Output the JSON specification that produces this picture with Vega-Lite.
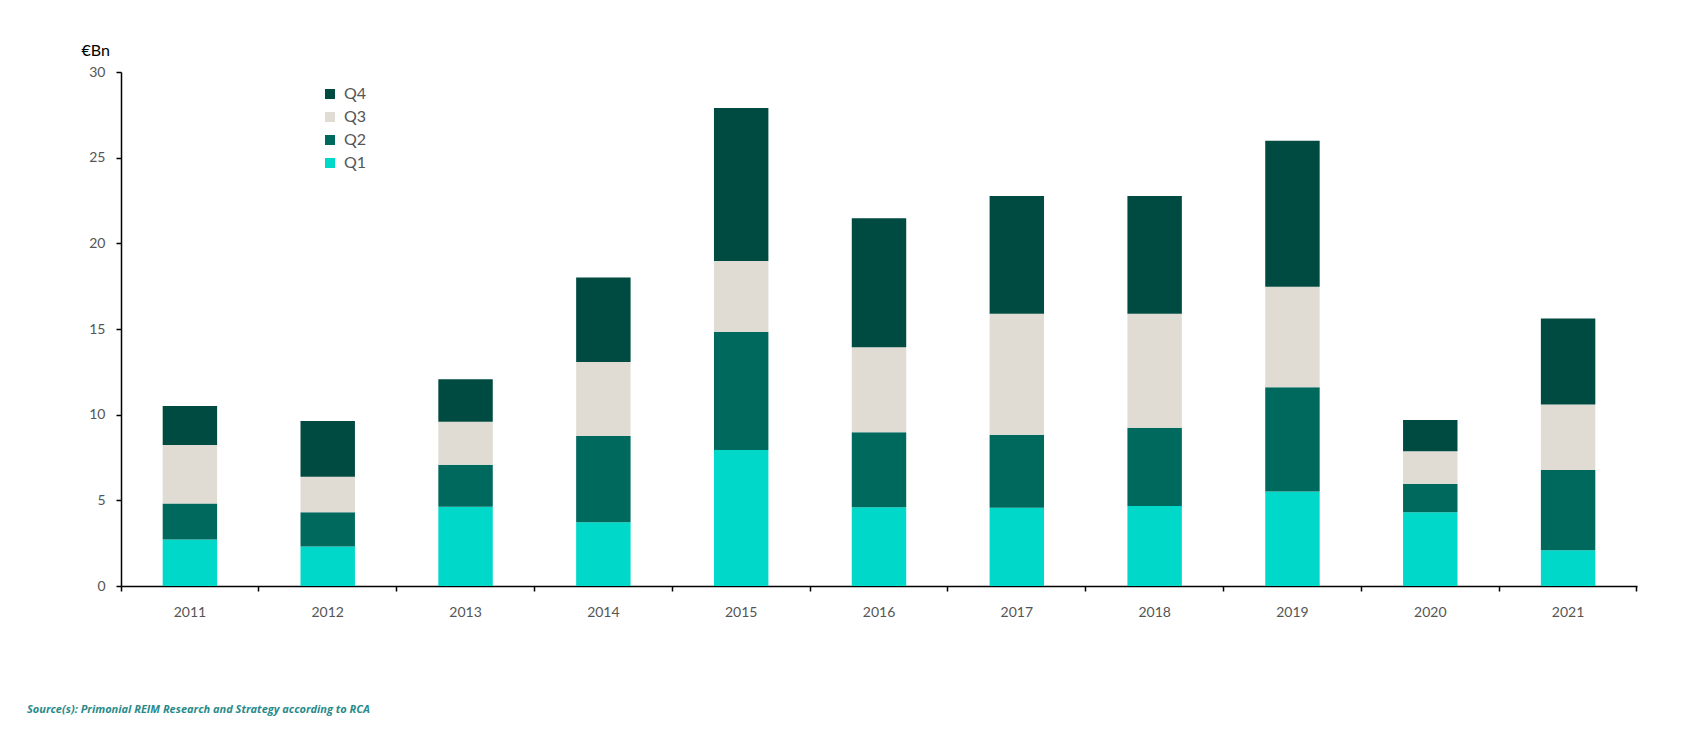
{
  "$schema": "https://vega.github.io/schema/vega-lite/v6.json",
  "autosize": {"type": "none"},
  "padding": {"left": 121, "top": 72, "right": 53, "bottom": 150},
  "width": 1516,
  "height": 514,
  "background": "white",
  "title": {
    "text": "Source(s): Primonial REIM Research and Strategy according to RCA",
    "orient": "bottom",
    "anchor": "start",
    "frame": "group",
    "dx": -94,
    "offset": 85,
    "font": "Open Sans",
    "fontSize": 11,
    "fontStyle": "italic",
    "fontWeight": "bold",
    "color": "#2a8a8a"
  },
  "data": {
    "values": [
      {"year": "2011", "quarter": "Q1", "value": 2.72},
      {"year": "2011", "quarter": "Q2", "value": 2.09},
      {"year": "2011", "quarter": "Q3", "value": 3.42},
      {"year": "2011", "quarter": "Q4", "value": 2.28},
      {"year": "2012", "quarter": "Q1", "value": 2.30},
      {"year": "2012", "quarter": "Q2", "value": 2.00},
      {"year": "2012", "quarter": "Q3", "value": 2.08},
      {"year": "2012", "quarter": "Q4", "value": 3.25},
      {"year": "2013", "quarter": "Q1", "value": 4.63},
      {"year": "2013", "quarter": "Q2", "value": 2.45},
      {"year": "2013", "quarter": "Q3", "value": 2.51},
      {"year": "2013", "quarter": "Q4", "value": 2.47},
      {"year": "2014", "quarter": "Q1", "value": 3.72},
      {"year": "2014", "quarter": "Q2", "value": 5.03},
      {"year": "2014", "quarter": "Q3", "value": 4.32},
      {"year": "2014", "quarter": "Q4", "value": 4.93},
      {"year": "2015", "quarter": "Q1", "value": 7.94},
      {"year": "2015", "quarter": "Q2", "value": 6.88},
      {"year": "2015", "quarter": "Q3", "value": 4.15},
      {"year": "2015", "quarter": "Q4", "value": 8.93},
      {"year": "2016", "quarter": "Q1", "value": 4.59},
      {"year": "2016", "quarter": "Q2", "value": 4.38},
      {"year": "2016", "quarter": "Q3", "value": 4.96},
      {"year": "2016", "quarter": "Q4", "value": 7.53},
      {"year": "2017", "quarter": "Q1", "value": 4.57},
      {"year": "2017", "quarter": "Q2", "value": 4.26},
      {"year": "2017", "quarter": "Q3", "value": 7.06},
      {"year": "2017", "quarter": "Q4", "value": 6.87},
      {"year": "2018", "quarter": "Q1", "value": 4.67},
      {"year": "2018", "quarter": "Q2", "value": 4.57},
      {"year": "2018", "quarter": "Q3", "value": 6.65},
      {"year": "2018", "quarter": "Q4", "value": 6.87},
      {"year": "2019", "quarter": "Q1", "value": 5.51},
      {"year": "2019", "quarter": "Q2", "value": 6.09},
      {"year": "2019", "quarter": "Q3", "value": 5.87},
      {"year": "2019", "quarter": "Q4", "value": 8.52},
      {"year": "2020", "quarter": "Q1", "value": 4.30},
      {"year": "2020", "quarter": "Q2", "value": 1.65},
      {"year": "2020", "quarter": "Q3", "value": 1.91},
      {"year": "2020", "quarter": "Q4", "value": 1.83},
      {"year": "2021", "quarter": "Q1", "value": 2.08},
      {"year": "2021", "quarter": "Q2", "value": 4.69},
      {"year": "2021", "quarter": "Q3", "value": 3.83},
      {"year": "2021", "quarter": "Q4", "value": 5.02}
    ]
  },
  "mark": {"type": "bar", "width": {"band": 0.395}},
  "encoding": {
    "x": {
      "field": "year",
      "type": "ordinal",
      "scale": {"paddingInner": 0, "paddingOuter": 0},
      "axis": {
        "title": null,
        "labelAngle": 0,
        "bandPosition": 1,
        "tickExtra": true,
        "labelFont": "Lato",
        "labelFontSize": 14,
        "labelColor": "#555555",
        "labelPadding": 14,
        "domainColor": "#000000",
        "domainWidth": 1.5,
        "tickColor": "#000000",
        "tickWidth": 1.5,
        "tickSize": 5,
        "grid": false
      }
    },
    "y": {
      "field": "value",
      "type": "quantitative",
      "aggregate": "sum",
      "stack": "zero",
      "scale": {"domain": [0, 30], "nice": false},
      "axis": {
        "title": "€Bn",
        "titleAngle": 0,
        "titleX": -40,
        "titleY": -22,
        "titleAlign": "left",
        "titleBaseline": "middle",
        "titleFont": "Lato",
        "titleFontSize": 16,
        "titleFontWeight": "normal",
        "titleColor": "#000000",
        "values": [0, 5, 10, 15, 20, 25, 30],
        "labelFont": "Lato",
        "labelFontSize": 14,
        "labelColor": "#555555",
        "labelPadding": 11,
        "domainColor": "#000000",
        "domainWidth": 1.5,
        "tickColor": "#000000",
        "tickWidth": 1.5,
        "tickSize": 5,
        "grid": false
      }
    },
    "color": {
      "field": "quarter",
      "type": "nominal",
      "sort": ["Q4", "Q3", "Q2", "Q1"],
      "scale": {
        "domain": ["Q4", "Q3", "Q2", "Q1"],
        "range": ["#004b41", "#e0dcd4", "#00695e", "#00d8c9"]
      },
      "legend": {
        "title": null,
        "orient": "none",
        "legendX": 201,
        "legendY": 14,
        "padding": 0,
        "symbolType": "square",
        "symbolSize": 100,
        "symbolStrokeWidth": 0,
        "labelFont": "Lato",
        "labelFontSize": 16,
        "labelColor": "#555555",
        "labelOffset": 6,
        "rowPadding": 7
      }
    },
    "order": {"field": "quarter", "sort": "ascending"}
  },
  "config": {"view": {"stroke": null}}
}
